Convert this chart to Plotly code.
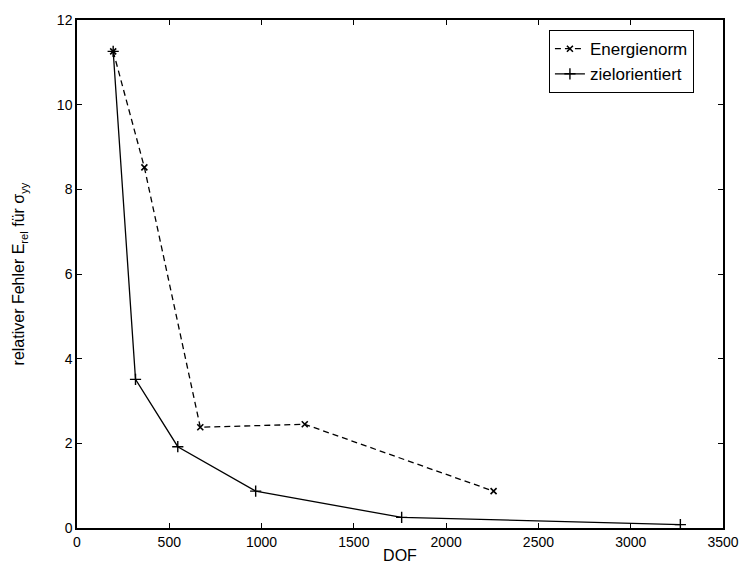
import plotly.graph_objects as go

# Degrees of freedom and relative error for the two refinement strategies
dof_energie = [196, 365, 668, 1234, 2257]
err_energie = [11.26, 8.52, 2.38, 2.45, 0.87]

dof_ziel = [196, 317, 546, 968, 1759, 3269]
err_ziel = [11.26, 3.51, 1.92, 0.87, 0.25, 0.08]

x_ticks = [0, 500, 1000, 1500, 2000, 2500, 3000, 3500]
y_ticks = [0, 2, 4, 6, 8, 10, 12]

FONT = "Liberation Sans, Arial, Helvetica, sans-serif"

fig = go.Figure()
fig.add_trace(go.Scatter(
    x=dof_energie, y=err_energie, mode="lines+markers", name="Energienorm",
    line=dict(color="black", width=1.3, dash="6px,4px"),
    marker=dict(symbol="x-thin", size=6, color="black",
                line=dict(color="black", width=1.6)),
))
fig.add_trace(go.Scatter(
    x=dof_ziel, y=err_ziel, mode="lines+markers", name="zielorientiert",
    line=dict(color="black", width=1.3),
    marker=dict(symbol="cross-thin", size=8, color="black",
                line=dict(color="black", width=1.4)),
))

axis_common = dict(
    showgrid=False, zeroline=False, showline=True, linecolor="black",
    linewidth=1.5, mirror="ticks", ticks="inside", ticklen=5,
    tickcolor="black", tickwidth=1, tickfont=dict(family=FONT, size=14, color="black"),
)

fig.update_layout(
    width=751, height=574,
    margin=dict(l=77, r=19, t=17, b=41),
    paper_bgcolor="white", plot_bgcolor="white",
    font=dict(family=FONT, size=14, color="black"),
    xaxis=dict(range=[0, 3500], tickvals=x_ticks,
               title=dict(text="DOF", standoff=1, font=dict(size=16)),
               **axis_common),
    yaxis=dict(range=[0, 12], tickvals=y_ticks,
               title=dict(text="relativer Fehler E<sub>rel</sub> für σ<sub>yy</sub>",
                          standoff=28, font=dict(size=16)),
               **axis_common),
    legend=dict(x=0.955, y=0.98, xanchor="right", yanchor="top",
                bgcolor="white", bordercolor="black", borderwidth=1,
                font=dict(family=FONT, size=17), itemwidth=30,
                tracegroupgap=0),
    showlegend=True,
)

fig.write_html("out.html")
